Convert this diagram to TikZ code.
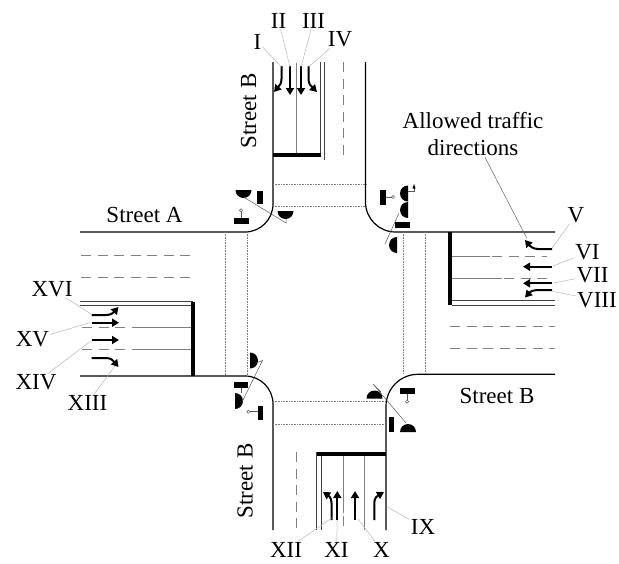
\documentclass[tikz,border=0pt]{standalone}
\usepackage{fontspec}
\setmainfont{Liberation Serif}
\usetikzlibrary{arrows.meta}
\tikzset{
  hd/.pic={\fill (-8,0) .. controls (-8,4.42) and (-4.42,8) .. (0,8) .. controls (4.42,8) and (8,4.42) .. (8,0) -- cycle;},
  roadedge/.style={line width=1.2pt,black},
  lane/.style={line width=0.8pt,gray},
  dlane/.style={line width=0.8pt,gray,dash pattern=on 10pt off 6.5pt},
  dbl/.style={line width=0.8pt,black!75},
  stopbar/.style={line width=4pt,black},
  xwalk/.style={line width=0.7pt,gray,dash pattern=on 0.8pt off 0.8pt},
  tarrow/.style={line width=2pt,black,-{Triangle[length=7pt,width=8pt]}},
  leader/.style={line width=0.5pt,gray!55},
  lbl/.style={font=\fontsize{23}{27}\selectfont,inner sep=1pt},
  thinl/.style={line width=0.5pt,gray!70!black},
  bar/.style={fill=black}
}
\begin{document}
\begin{tikzpicture}[x=1pt,y=-1pt]
\fill[white] (0,0) rectangle (619,563);
\useasboundingbox (0,0) rectangle (619,563);

% road edges
\draw[roadedge,rounded corners=28pt] (273,62) -- (273,232) -- (80,232);
\draw[roadedge,rounded corners=30pt] (365.5,62) -- (365.5,232) -- (555,232);
\draw[roadedge,rounded corners=28pt] (80,376) -- (273,376) -- (273,530);
\draw[roadedge,rounded corners=32pt] (555,374.3) -- (386,374.3) -- (386,530);

% crosswalks
\draw[xwalk] (273,184) -- (366,184);
\draw[xwalk] (273,206) -- (366,206);
\draw[xwalk] (225.7,232) -- (225.7,376);
\draw[xwalk] (247.7,232) -- (247.7,376);
\draw[xwalk] (403,232) -- (403,374.3);
\draw[xwalk] (425,232) -- (425,374.3);
\draw[xwalk] (273,401.7) -- (386,401.7);
\draw[xwalk] (273,424) -- (386,424);

% top road
\draw[lane] (296.7,63) -- (296.7,154);
\draw[dbl] (320,62) -- (320,155);
\draw[dbl] (324,62) -- (324,160);
\draw[dlane] (343,62) -- (343,160);
\draw[stopbar] (273,154.7) -- (321,154.7);

% west road
\draw[dlane] (81,255) -- (195,255);
\draw[dlane] (81,277.3) -- (195,277.3);
\draw[dbl] (80,301.7) -- (193,301.7);
\draw[dbl] (80,305) -- (193,305);
\draw[dlane] (82,327.7) -- (133,327.7);
\draw[lane] (133,327.7) -- (193,327.7);
\draw[dlane] (82,349.3) -- (133,349.3);
\draw[lane] (133,349.3) -- (193,349.3);
\draw[stopbar] (193.3,301.7) -- (193.3,376);

% east road
\draw[lane] (452,256.7) -- (490,256.7);
\draw[dlane] (492,256.7) -- (547,256.7);
\draw[lane] (452,278.3) -- (502,278.3);
\draw[dlane] (504,278.3) -- (550,278.3);
\draw[dbl] (452,300.7) -- (555,300.7);
\draw[dbl] (452,305) -- (555,305);
\draw[dlane] (450,326.7) -- (555,326.7);
\draw[dlane] (450,348.3) -- (555,348.3);
\draw[stopbar] (450,232) -- (450,305);

% bottom road
\draw[dlane] (296,452) -- (296,530);
\draw[dbl] (316.7,452) -- (316.7,530);
\draw[dbl] (321,454) -- (321,530);
\draw[lane] (343.3,454) -- (343.3,513);
\draw[dlane] (343.3,516) -- (343.3,530);
\draw[lane] (364,454) -- (364,530);
\draw[stopbar] (317,454) -- (386,454);

% signals NW
\pic at (243.5,190) {hd};
\pic at (285.5,211) {hd};
\fill[bar] (257,191) rectangle (263,204);
\fill[bar] (234,218) rectangle (249,224);
\draw[thinl] (241,212) -- (241,218);
\draw[thinl] (241,210.3) circle[radius=1.6];
\draw[thinl] (243.5,197) -- (286,223) -- (286,218.5);
% signals NE
\pic[rotate=-90] at (408,193.5) {hd};
\pic[rotate=-90] at (408,210) {hd};
\pic[rotate=-90] at (397,245) {hd};
\fill[bar] (380,190) rectangle (386,205);
\fill[bar] (395,222) rectangle (409.5,228);
\draw[thinl] (386,197) -- (391.5,197);
\draw[thinl] (393,197) circle[radius=1.6];
\draw[thinl] (408,191.5) -- (414,191.5) -- (414,188);
\fill (412.5,188.5) -- (415.5,188.5) -- (414,184) -- cycle;
\draw[thinl] (385,244) -- (399,213);
% signals SW
\pic[rotate=90] at (250,360.5) {hd};
\pic[rotate=90] at (235,401) {hd};
\fill[bar] (234,382) rectangle (248,388);
\fill[bar] (257.5,405.5) rectangle (263,420);
\draw[thinl] (241,388) -- (241,393);
\draw[thinl] (250,411.7) -- (257.5,411.7);
\draw[thinl] (248.3,411.7) circle[radius=1.6];
\draw[thinl] (256,363) -- (262.5,360.5) -- (242,402);
% signals SE
\pic[rotate=180] at (374.5,398.5) {hd};
\pic[rotate=180] at (408,432) {hd};
\fill[bar] (399.5,388) rectangle (414.5,394);
\fill[bar] (388.5,417) rectangle (394,431.5);
\draw[thinl] (407,394) -- (407,400);
\draw[thinl] (407,401.7) circle[radius=1.6];
\draw[thinl] (381,392) -- (373,384) -- (406,423);

% arrows top (southbound)
\draw[tarrow] (281.5,66) -- (281.5,79) .. controls (281.5,84) and (279,86) .. (274,92);
\draw[tarrow] (290,66) -- (290,95);
\draw[tarrow] (301,66) -- (301,95);
\draw[tarrow] (308.5,66) -- (308.5,79) .. controls (308.5,84) and (311,86) .. (317,92);
% arrows bottom (northbound)
\draw[tarrow] (331.5,520) -- (331.5,503) .. controls (331.5,498) and (329,496) .. (323,492);
\draw[tarrow] (337.3,520) -- (337.3,491);
\draw[tarrow] (355,520) -- (355,491);
\draw[tarrow] (374.3,520) -- (374.3,503) .. controls (374.3,498) and (377,496) .. (384,492);
% arrows east (westbound)
\draw[tarrow] (552,249) -- (538,249) .. controls (533,249) and (530,246) .. (525,240);
\draw[tarrow] (552,266.7) -- (523,266.7);
\draw[tarrow] (552,283.3) -- (523,283.3);
\draw[tarrow] (552,290) -- (538,290) .. controls (533,290) and (530,292) .. (525,297.5);
% arrows west (eastbound)
\draw[tarrow] (91.7,315) -- (106,315) .. controls (111,315) and (113,313) .. (118.5,307);
\draw[tarrow] (91.7,322.7) -- (119,322.7);
\draw[tarrow] (91.7,340) -- (119,340);
\draw[tarrow] (91.7,358) -- (106,358) .. controls (111,358) and (113,360.5) .. (118.5,367);

% anchor coordinates for leaders
\coordinate (aI) at (281.5,67);
\coordinate (aII) at (290,67);
\coordinate (aIII) at (301,67);
\coordinate (aIV) at (308.5,67);
\coordinate (aV) at (552,248);
\coordinate (aVI) at (553,266);
\coordinate (aVII) at (553,283);
\coordinate (aVIII) at (553,291.5);
\coordinate (aIX) at (386.7,506.7);
\coordinate (aX) at (358,519);
\coordinate (aXI) at (337.3,520);
\coordinate (aXII) at (331.7,518);
\coordinate (aXIII) at (115,366);
\coordinate (aXIV) at (91.7,340.5);
\coordinate (aXV) at (90,322.7);
\coordinate (aXVI) at (91.7,314.5);
\coordinate (aAT) at (526.7,238);

% labels
\node[lbl] (lI) at (257.5,41.5) {I};
\node[lbl] (lII) at (278.5,20.5) {II};
\node[lbl] (lIII) at (313.5,20.5) {III};
\node[lbl] (lIV) at (340,39.5) {IV};
\node[lbl] (lV) at (576,215) {V};
\node[lbl] (lVI) at (587.5,252.5) {VI};
\node[lbl] (lVII) at (592.5,275.5) {VII};
\node[lbl] (lVIII) at (597,300) {VIII};
\node[lbl] (lIX) at (423,527) {IX};
\node[lbl] (lX) at (381.5,550) {X};
\node[lbl] (lXI) at (336.5,550) {XI};
\node[lbl] (lXII) at (286,550) {XII};
\node[lbl] (lXIII) at (87.5,403) {XIII};
\node[lbl] (lXIV) at (36,382.5) {XIV};
\node[lbl] (lXV) at (32.5,339.5) {XV};
\node[lbl] (lXVI) at (52,289) {XVI};
\node[lbl] (sa) at (144.5,215) {Street A};
\node[lbl,rotate=90] (sbt) at (248.5,111) {Street B};
\node[lbl,rotate=90] (sbb) at (245,481) {Street B};
\node[lbl] (sbr) at (497,396) {Street B};
\node[lbl,align=center,anchor=south] (at) at (473,157) {Allowed traffic\\directions};

% leaders
\foreach \n in {I,II,III,IV,V,VI,VII,VIII,IX,X,XI,XII,XIII,XIV,XV,XVI}
  \draw[leader] (l\n) -- (a\n);
\draw[line width=0.5pt,gray!80!black] (at) -- (aAT);
\end{tikzpicture}
\end{document}
